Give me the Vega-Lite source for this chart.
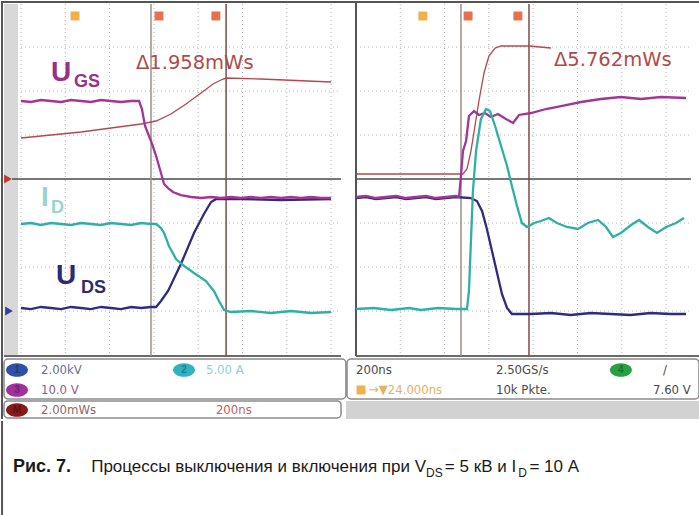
{
  "$schema": "https://vega.github.io/schema/vega-lite/v6.json",
  "background": "white",
  "padding": 0,
  "spacing": 0,
  "config": {
    "view": {"stroke": null},
    "axis": {"disable": true},
    "legend": {"disable": true},
    "concat": {"spacing": 0}
  },
  "datasets": {
    "traces": [
      {"panel":"off","ch":"E","t":0,"v":0.932},{"panel":"off","ch":"E","t":271,"v":1.068},{"panel":"off","ch":"E","t":542,"v":1.25},{"panel":"off","ch":"E","t":610,"v":1.318},{"panel":"off","ch":"E","t":677,"v":1.477},{"panel":"off","ch":"E","t":745,"v":1.705},{"panel":"off","ch":"E","t":813,"v":1.955},{"panel":"off","ch":"E","t":867,"v":2.159},{"panel":"off","ch":"E","t":903,"v":2.25},{"panel":"off","ch":"E","t":926,"v":2.295},{"panel":"off","ch":"E","t":1084,"v":2.273},{"panel":"off","ch":"E","t":1400,"v":2.205},

      {"panel":"off","ch":"UDS","t":0,"v":-2.932},{"panel":"off","ch":"UDS","t":45,"v":-2.955},{"panel":"off","ch":"UDS","t":90,"v":-2.909},{"panel":"off","ch":"UDS","t":135,"v":-2.932},{"panel":"off","ch":"UDS","t":181,"v":-2.955},{"panel":"off","ch":"UDS","t":226,"v":-2.909},{"panel":"off","ch":"UDS","t":271,"v":-2.932},{"panel":"off","ch":"UDS","t":316,"v":-2.955},{"panel":"off","ch":"UDS","t":361,"v":-2.909},{"panel":"off","ch":"UDS","t":406,"v":-2.932},{"panel":"off","ch":"UDS","t":451,"v":-2.955},{"panel":"off","ch":"UDS","t":497,"v":-2.909},{"panel":"off","ch":"UDS","t":542,"v":-2.932},{"panel":"off","ch":"UDS","t":587,"v":-2.909},{"panel":"off","ch":"UDS","t":610,"v":-2.909},{"panel":"off","ch":"UDS","t":632,"v":-2.773},{"panel":"off","ch":"UDS","t":664,"v":-2.545},{"panel":"off","ch":"UDS","t":722,"v":-1.932},{"panel":"off","ch":"UDS","t":781,"v":-1.227},{"panel":"off","ch":"UDS","t":826,"v":-0.795},{"panel":"off","ch":"UDS","t":858,"v":-0.523},{"panel":"off","ch":"UDS","t":881,"v":-0.455},{"panel":"off","ch":"UDS","t":993,"v":-0.455},{"panel":"off","ch":"UDS","t":1174,"v":-0.477},{"panel":"off","ch":"UDS","t":1400,"v":-0.455},

      {"panel":"off","ch":"UGS","t":0,"v":1.773},{"panel":"off","ch":"UGS","t":45,"v":1.75},{"panel":"off","ch":"UGS","t":90,"v":1.795},{"panel":"off","ch":"UGS","t":135,"v":1.773},{"panel":"off","ch":"UGS","t":181,"v":1.75},{"panel":"off","ch":"UGS","t":226,"v":1.795},{"panel":"off","ch":"UGS","t":271,"v":1.773},{"panel":"off","ch":"UGS","t":316,"v":1.75},{"panel":"off","ch":"UGS","t":361,"v":1.795},{"panel":"off","ch":"UGS","t":406,"v":1.773},{"panel":"off","ch":"UGS","t":451,"v":1.75},{"panel":"off","ch":"UGS","t":497,"v":1.773},{"panel":"off","ch":"UGS","t":533,"v":1.773},{"panel":"off","ch":"UGS","t":546,"v":1.59},{"panel":"off","ch":"UGS","t":560,"v":1.205},{"panel":"off","ch":"UGS","t":587,"v":0.864},{"panel":"off","ch":"UGS","t":610,"v":0.523},{"panel":"off","ch":"UGS","t":632,"v":0.136},{"panel":"off","ch":"UGS","t":646,"v":-0.114},{"panel":"off","ch":"UGS","t":664,"v":-0.205},{"panel":"off","ch":"UGS","t":686,"v":-0.295},{"panel":"off","ch":"UGS","t":722,"v":-0.364},{"panel":"off","ch":"UGS","t":768,"v":-0.409},{"panel":"off","ch":"UGS","t":813,"v":-0.432},{"panel":"off","ch":"UGS","t":858,"v":-0.409},{"panel":"off","ch":"UGS","t":903,"v":-0.432},{"panel":"off","ch":"UGS","t":948,"v":-0.409},{"panel":"off","ch":"UGS","t":993,"v":-0.432},{"panel":"off","ch":"UGS","t":1039,"v":-0.409},{"panel":"off","ch":"UGS","t":1084,"v":-0.432},{"panel":"off","ch":"UGS","t":1129,"v":-0.409},{"panel":"off","ch":"UGS","t":1174,"v":-0.432},{"panel":"off","ch":"UGS","t":1219,"v":-0.409},{"panel":"off","ch":"UGS","t":1264,"v":-0.432},{"panel":"off","ch":"UGS","t":1310,"v":-0.409},{"panel":"off","ch":"UGS","t":1355,"v":-0.432},{"panel":"off","ch":"UGS","t":1400,"v":-0.432},

      {"panel":"off","ch":"ID","t":0,"v":-1.023},{"panel":"off","ch":"ID","t":45,"v":-1.0},{"panel":"off","ch":"ID","t":90,"v":-1.045},{"panel":"off","ch":"ID","t":135,"v":-1.0},{"panel":"off","ch":"ID","t":181,"v":-1.023},{"panel":"off","ch":"ID","t":226,"v":-1.045},{"panel":"off","ch":"ID","t":271,"v":-1.0},{"panel":"off","ch":"ID","t":316,"v":-1.023},{"panel":"off","ch":"ID","t":361,"v":-1.045},{"panel":"off","ch":"ID","t":406,"v":-1.0},{"panel":"off","ch":"ID","t":451,"v":-1.023},{"panel":"off","ch":"ID","t":497,"v":-1.045},{"panel":"off","ch":"ID","t":542,"v":-1.0},{"panel":"off","ch":"ID","t":587,"v":-1.023},{"panel":"off","ch":"ID","t":610,"v":-1.023},{"panel":"off","ch":"ID","t":632,"v":-1.114},{"panel":"off","ch":"ID","t":646,"v":-1.227},{"panel":"off","ch":"ID","t":668,"v":-1.523},{"panel":"off","ch":"ID","t":700,"v":-1.818},{"panel":"off","ch":"ID","t":731,"v":-1.955},{"panel":"off","ch":"ID","t":781,"v":-2.136},{"panel":"off","ch":"ID","t":835,"v":-2.318},{"panel":"off","ch":"ID","t":871,"v":-2.545},{"panel":"off","ch":"ID","t":894,"v":-2.773},{"panel":"off","ch":"ID","t":917,"v":-2.977},{"panel":"off","ch":"ID","t":948,"v":-3.023},{"panel":"off","ch":"ID","t":1039,"v":-3.0},{"panel":"off","ch":"ID","t":1129,"v":-3.045},{"panel":"off","ch":"ID","t":1219,"v":-3.0},{"panel":"off","ch":"ID","t":1310,"v":-3.045},{"panel":"off","ch":"ID","t":1400,"v":-3.023},

      {"panel":"on","ch":"E","t":0,"v":0.114},{"panel":"on","ch":"E","t":293,"v":0.114},{"panel":"on","ch":"E","t":483,"v":0.114},{"panel":"on","ch":"E","t":501,"v":0.227},{"panel":"on","ch":"E","t":519,"v":0.636},{"panel":"on","ch":"E","t":537,"v":1.205},{"panel":"on","ch":"E","t":555,"v":1.773},{"panel":"on","ch":"E","t":578,"v":2.409},{"panel":"on","ch":"E","t":600,"v":2.795},{"panel":"on","ch":"E","t":628,"v":2.977},{"panel":"on","ch":"E","t":655,"v":3.023},{"panel":"on","ch":"E","t":781,"v":3.023},{"panel":"on","ch":"E","t":880,"v":2.977},

      {"panel":"on","ch":"UDS","t":0,"v":-0.432},{"panel":"on","ch":"UDS","t":45,"v":-0.409},{"panel":"on","ch":"UDS","t":90,"v":-0.455},{"panel":"on","ch":"UDS","t":135,"v":-0.432},{"panel":"on","ch":"UDS","t":181,"v":-0.409},{"panel":"on","ch":"UDS","t":226,"v":-0.455},{"panel":"on","ch":"UDS","t":271,"v":-0.432},{"panel":"on","ch":"UDS","t":316,"v":-0.409},{"panel":"on","ch":"UDS","t":361,"v":-0.455},{"panel":"on","ch":"UDS","t":406,"v":-0.432},{"panel":"on","ch":"UDS","t":451,"v":-0.409},{"panel":"on","ch":"UDS","t":519,"v":-0.432},{"panel":"on","ch":"UDS","t":546,"v":-0.5},{"panel":"on","ch":"UDS","t":569,"v":-0.727},{"panel":"on","ch":"UDS","t":591,"v":-1.136},{"panel":"on","ch":"UDS","t":614,"v":-1.636},{"panel":"on","ch":"UDS","t":637,"v":-2.136},{"panel":"on","ch":"UDS","t":659,"v":-2.614},{"panel":"on","ch":"UDS","t":682,"v":-2.932},{"panel":"on","ch":"UDS","t":704,"v":-3.068},{"panel":"on","ch":"UDS","t":790,"v":-3.068},{"panel":"on","ch":"UDS","t":880,"v":-3.045},{"panel":"on","ch":"UDS","t":970,"v":-3.091},{"panel":"on","ch":"UDS","t":1060,"v":-3.045},{"panel":"on","ch":"UDS","t":1150,"v":-3.068},{"panel":"on","ch":"UDS","t":1240,"v":-3.091},{"panel":"on","ch":"UDS","t":1330,"v":-3.045},{"panel":"on","ch":"UDS","t":1420,"v":-3.068},{"panel":"on","ch":"UDS","t":1490,"v":-3.068},

      {"panel":"on","ch":"UGS","t":0,"v":-0.409},{"panel":"on","ch":"UGS","t":45,"v":-0.386},{"panel":"on","ch":"UGS","t":90,"v":-0.432},{"panel":"on","ch":"UGS","t":135,"v":-0.409},{"panel":"on","ch":"UGS","t":181,"v":-0.386},{"panel":"on","ch":"UGS","t":226,"v":-0.432},{"panel":"on","ch":"UGS","t":271,"v":-0.409},{"panel":"on","ch":"UGS","t":316,"v":-0.386},{"panel":"on","ch":"UGS","t":361,"v":-0.432},{"panel":"on","ch":"UGS","t":406,"v":-0.409},{"panel":"on","ch":"UGS","t":451,"v":-0.386},{"panel":"on","ch":"UGS","t":465,"v":-0.409},{"panel":"on","ch":"UGS","t":474,"v":0.068},{"panel":"on","ch":"UGS","t":483,"v":0.636},{"panel":"on","ch":"UGS","t":497,"v":0.864},{"panel":"on","ch":"UGS","t":510,"v":1.432},{"panel":"on","ch":"UGS","t":533,"v":1.545},{"panel":"on","ch":"UGS","t":555,"v":1.455},{"panel":"on","ch":"UGS","t":582,"v":1.5},{"panel":"on","ch":"UGS","t":609,"v":1.409},{"panel":"on","ch":"UGS","t":641,"v":1.477},{"panel":"on","ch":"UGS","t":677,"v":1.364},{"panel":"on","ch":"UGS","t":709,"v":1.273},{"panel":"on","ch":"UGS","t":736,"v":1.455},{"panel":"on","ch":"UGS","t":790,"v":1.5},{"panel":"on","ch":"UGS","t":858,"v":1.591},{"panel":"on","ch":"UGS","t":926,"v":1.659},{"panel":"on","ch":"UGS","t":1016,"v":1.75},{"panel":"on","ch":"UGS","t":1106,"v":1.818},{"panel":"on","ch":"UGS","t":1196,"v":1.864},{"panel":"on","ch":"UGS","t":1287,"v":1.818},{"panel":"on","ch":"UGS","t":1377,"v":1.864},{"panel":"on","ch":"UGS","t":1490,"v":1.841},

      {"panel":"on","ch":"ID","t":0,"v":-2.955},{"panel":"on","ch":"ID","t":80,"v":-2.932},{"panel":"on","ch":"ID","t":158,"v":-2.977},{"panel":"on","ch":"ID","t":240,"v":-2.932},{"panel":"on","ch":"ID","t":293,"v":-2.977},{"panel":"on","ch":"ID","t":370,"v":-2.932},{"panel":"on","ch":"ID","t":451,"v":-2.955},{"panel":"on","ch":"ID","t":501,"v":-2.955},{"panel":"on","ch":"ID","t":510,"v":-2.545},{"panel":"on","ch":"ID","t":519,"v":-1.409},{"panel":"on","ch":"ID","t":528,"v":-0.273},{"panel":"on","ch":"ID","t":542,"v":0.636},{"panel":"on","ch":"ID","t":564,"v":1.364},{"panel":"on","ch":"ID","t":587,"v":1.591},{"panel":"on","ch":"ID","t":605,"v":1.545},{"panel":"on","ch":"ID","t":628,"v":1.205},{"panel":"on","ch":"ID","t":655,"v":0.75},{"panel":"on","ch":"ID","t":682,"v":0.295},{"panel":"on","ch":"ID","t":704,"v":-0.159},{"panel":"on","ch":"ID","t":727,"v":-0.614},{"panel":"on","ch":"ID","t":749,"v":-1.0},{"panel":"on","ch":"ID","t":772,"v":-1.091},{"panel":"on","ch":"ID","t":804,"v":-1.0},{"panel":"on","ch":"ID","t":835,"v":-0.955},{"panel":"on","ch":"ID","t":871,"v":-0.886},{"panel":"on","ch":"ID","t":907,"v":-1.0},{"panel":"on","ch":"ID","t":953,"v":-1.091},{"panel":"on","ch":"ID","t":1002,"v":-1.136},{"panel":"on","ch":"ID","t":1047,"v":-1.0},{"panel":"on","ch":"ID","t":1093,"v":-0.932},{"panel":"on","ch":"ID","t":1129,"v":-1.091},{"panel":"on","ch":"ID","t":1160,"v":-1.318},{"panel":"on","ch":"ID","t":1196,"v":-1.227},{"panel":"on","ch":"ID","t":1242,"v":-1.045},{"panel":"on","ch":"ID","t":1278,"v":-0.932},{"panel":"on","ch":"ID","t":1318,"v":-1.091},{"panel":"on","ch":"ID","t":1359,"v":-1.227},{"panel":"on","ch":"ID","t":1400,"v":-1.091},{"panel":"on","ch":"ID","t":1445,"v":-1.0},{"panel":"on","ch":"ID","t":1481,"v":-0.886}
    ],
    "gridT": [
      {"panel":"off","t":0},{"panel":"off","t":200},{"panel":"off","t":400},{"panel":"off","t":600},{"panel":"off","t":800},{"panel":"off","t":1000},{"panel":"off","t":1200},{"panel":"off","t":1400},
      {"panel":"on","t":200},{"panel":"on","t":400},{"panel":"on","t":600},{"panel":"on","t":800},{"panel":"on","t":1000},{"panel":"on","t":1200},{"panel":"on","t":1400}
    ],
    "gridV": [{"v":-3},{"v":-2},{"v":-1},{"v":1},{"v":2},{"v":3}],
    "cursors": [
      {"panel":"off","cur":"a","t":587},{"panel":"off","cur":"b","t":926},
      {"panel":"on","cur":"a","t":474},{"panel":"on","cur":"b","t":781}
    ],
    "markers": [
      {"panel":"off","kind":"trigger","t":244,"v":3.705},{"panel":"off","kind":"cursor","t":623,"v":3.705},{"panel":"off","kind":"cursor","t":880,"v":3.705},
      {"panel":"off","kind":"gndM","t":-58.7,"v":0},{"panel":"off","kind":"gnd1","t":-54,"v":-3.0},
      {"panel":"on","kind":"trigger","t":302,"v":3.705},{"panel":"on","kind":"cursor","t":506,"v":3.705},{"panel":"on","kind":"cursor","t":731,"v":3.705},
      {"panel":"on","kind":"trigger","t":22.6,"v":-4.795}
    ],
    "badges": [
      {"panel":"off","kind":"ch1","num":"1","t":-18.1,"v":-4.341},{"panel":"off","kind":"ch3","num":"3","t":-18.1,"v":-4.795},{"panel":"off","kind":"math","num":"M","t":-18.1,"v":-5.25},{"panel":"off","kind":"ch2","num":"2","t":736,"v":-4.341},
      {"panel":"on","kind":"ch4","num":"4","t":1196,"v":-4.341}
    ],
    "labels": [
      {"panel":"off","kind":"big","ch":"UGS","t":135,"v":2.227,"text":"U"},
      {"panel":"off","kind":"sub","ch":"UGS","t":239,"v":2.09,"text":"GS"},
      {"panel":"off","kind":"big","ch":"IDlbl","t":90,"v":-0.614,"text":"I"},
      {"panel":"off","kind":"sub","ch":"IDlbl","t":135,"v":-0.773,"text":"D"},
      {"panel":"off","kind":"big","ch":"UDS","t":158,"v":-2.386,"text":"U"},
      {"panel":"off","kind":"sub","ch":"UDS","t":271,"v":-2.591,"text":"DS"},
      {"panel":"off","kind":"delta","ch":"E","t":519,"v":2.5,"text":"Δ1.958mWs"},
      {"panel":"on","kind":"delta","ch":"E","t":894,"v":2.568,"text":"Δ5.762mWs"}
    ],
    "readout": [
      {"panel":"off","ch":"ch1","t":90.3,"v":-4.341,"text":"2.00kV"},
      {"panel":"off","ch":"ch2","t":835,"v":-4.341,"text":"5.00 A"},
      {"panel":"off","ch":"ch3","t":90.3,"v":-4.795,"text":"10.0 V"},
      {"panel":"off","ch":"math","t":90.3,"v":-5.25,"text":"2.00mWs"},
      {"panel":"off","ch":"mathT","t":880,"v":-5.25,"text":"200ns"},
      {"panel":"on","ch":"time","t":0,"v":-4.341,"text":"200ns"},
      {"panel":"on","ch":"time","t":632,"v":-4.341,"text":"2.50GS/s"},
      {"panel":"on","ch":"time","t":1386,"v":-4.341,"text":"/"},
      {"panel":"on","ch":"trig","t":58.7,"v":-4.795,"text":"→▼24.000ns"},
      {"panel":"on","ch":"time","t":632,"v":-4.795,"text":"10k Pkte."},
      {"panel":"on","ch":"time","t":1341,"v":-4.795,"text":"7.60 V"}
    ],
    "caption": [
      {"role":"fig","pos":1.72,"piece":"Рис. 7."},
      {"role":"body","pos":12.9,"piece":"Процессы выключения и включения при V"},
      {"role":"index","pos":60.8,"piece":"DS"},
      {"role":"body","pos":63.5,"piece":"= 5 кВ и I"},
      {"role":"index","pos":74.0,"piece":"D"},
      {"role":"body","pos":75.6,"piece":"= 10 А"}
    ]
  },
  "vconcat": [
    {
      "spacing": 0,
      "bounds": "flush",
      "hconcat": [
        {
          "width": 345,
          "height": 418,
          "layer": [
            {"data":{"values":[{}]},"mark":{"type":"rect","fill":"#d8d8d8"},
             "encoding":{"x":{"datum":-76.8,"type":"quantitative","axis":null,"scale":{"domain":[-90.3,1467.4],"nice":false,"zero":false}},"x2":{"datum":-13.5},
                         "y":{"datum":3.977,"type":"quantitative","axis":null,"scale":{"domain":[-5.4545,4.0455],"nice":false,"zero":false}},"y2":{"datum":-4.023}}},
            {"data":{"name":"gridT"},"transform":[{"filter":"datum.panel==='off'"}],"mark":{"type":"rule","stroke":"#b5b5b5","strokeDash":[1,3],"strokeWidth":1},
             "encoding":{"x":{"field":"t","type":"quantitative"},"y":{"datum":3.977},"y2":{"datum":-4.023}}},
            {"data":{"name":"gridV"},"mark":{"type":"rule","stroke":"#b5b5b5","strokeDash":[1,3],"strokeWidth":1},
             "encoding":{"y":{"field":"v","type":"quantitative"},"x":{"datum":0},"x2":{"datum":1445}}},
            {"data":{"values":[{}]},"mark":{"type":"rule","stroke":"#4a4a4a","strokeWidth":1.5},
             "encoding":{"y":{"datum":0},"x":{"datum":-40},"x2":{"datum":1445}}},
            {"data":{"values":[{}]},"mark":{"type":"rule","stroke":"#6a6a6a","strokeWidth":2},
             "encoding":{"y":{"datum":-4.023},"x":{"datum":-76.8},"x2":{"datum":1445}}},
            {"data":{"values":[{}]},"mark":{"type":"rule","stroke":"#555555","strokeWidth":2},
             "encoding":{"y":{"datum":4.023}}},
            {"data":{"values":[{}]},"mark":{"type":"rule","stroke":"#555555","strokeWidth":2},
             "encoding":{"x":{"datum":-85.8}}},
            {"data":{"name":"cursors"},"transform":[{"filter":"datum.panel==='off'"}],"mark":{"type":"rule","strokeWidth":1.5},
             "encoding":{"x":{"field":"t","type":"quantitative"},"y":{"datum":3.977},"y2":{"datum":-4.023},
                         "stroke":{"field":"cur","type":"nominal","legend":null,"scale":{"domain":["E","UDS","UGS","ID","a","b"],"range":["#b5474f","#2e2c80","#a33597","#2fb0a4","#9a908b","#7d4b47"]}}}},
            {"data":{"name":"traces"},"transform":[{"filter":"datum.panel==='off' && datum.ch==='E'"}],"mark":{"type":"line","strokeWidth":1.3,"stroke":"#b5474f"},
             "encoding":{"x":{"field":"t","type":"quantitative"},"y":{"field":"v","type":"quantitative"}}},
            {"data":{"name":"traces"},"transform":[{"filter":"datum.panel==='off' && datum.ch!=='E'"}],"mark":{"type":"line","strokeWidth":2.3},
             "encoding":{"x":{"field":"t","type":"quantitative"},"y":{"field":"v","type":"quantitative"},
                         "stroke":{"field":"ch","type":"nominal","legend":null,"scale":{"domain":["E","UDS","UGS","ID","a","b"],"range":["#b5474f","#2e2c80","#a33597","#2fb0a4","#9a908b","#7d4b47"]}}}},
            {"data":{"name":"markers"},"transform":[{"filter":"datum.panel==='off'"}],"mark":{"type":"point","filled":true,"size":80,"opacity":1},
             "encoding":{"x":{"field":"t","type":"quantitative"},"y":{"field":"v","type":"quantitative"},
                         "color":{"field":"kind","type":"nominal","legend":null,"scale":{"domain":["trigger","cursor","gndM","gnd1","ch1","ch2","ch3","math","ch4"],"range":["#f2b04a","#e8704e","#c0392b","#3b3b9a","#3050a8","#2fb3c2","#a0309a","#8a1a1a","#28a045"]}},
                         "shape":{"field":"kind","type":"nominal","legend":null,"scale":{"domain":["trigger","cursor","gndM","gnd1"],"range":["square","square","triangle-right","triangle-right"]}}}},
            {"data":{"values":[{}]},"mark":{"type":"rect","fill":"white","stroke":"#8a8a8a","strokeWidth":1.5,"cornerRadius":4},
             "encoding":{"x":{"datum":-76.8},"x2":{"datum":1467},"y":{"datum":-4.091},"y2":{"datum":-5.0}}},
            {"data":{"values":[{}]},"mark":{"type":"rect","fill":"white","stroke":"#8a8a8a","strokeWidth":1.5,"cornerRadius":4},
             "encoding":{"x":{"datum":-76.8},"x2":{"datum":1445},"y":{"datum":-5.045},"y2":{"datum":-5.432}}},
            {"data":{"name":"badges"},"transform":[{"filter":"datum.panel==='off'"}],"mark":{"type":"point","filled":true,"size":484,"opacity":1,"shape":"M-1,0A1,0.62,0,1,0,1,0A1,0.62,0,1,0,-1,0Z"},
             "encoding":{"x":{"field":"t","type":"quantitative"},"y":{"field":"v","type":"quantitative"},
                         "color":{"field":"kind","type":"nominal","legend":null,"scale":{"domain":["trigger","cursor","gndM","gnd1","ch1","ch2","ch3","math","ch4"],"range":["#f2b04a","#e8704e","#c0392b","#3b3b9a","#3050a8","#2fb3c2","#a0309a","#8a1a1a","#28a045"]}}}},
            {"data":{"name":"badges"},"transform":[{"filter":"datum.panel==='off'"}],"mark":{"type":"text","font":"Liberation Sans","fontWeight":"bold","fontSize":10,"fill":"#000000","opacity":0.3,"align":"center","baseline":"middle"},
             "encoding":{"x":{"field":"t","type":"quantitative"},"y":{"field":"v","type":"quantitative"},"text":{"field":"num"}}},
            {"data":{"name":"readout"},"transform":[{"filter":"datum.panel==='off'"}],"mark":{"type":"text","font":"Liberation Sans Narrow, DejaVu Sans Condensed, sans-serif","fontSize":13,"align":"left","baseline":"middle"},
             "encoding":{"x":{"field":"t","type":"quantitative"},"y":{"field":"v","type":"quantitative"},"text":{"field":"text"},
                         "fill":{"field":"ch","type":"nominal","legend":null,"scale":{"domain":["UGS","UDS","IDlbl","E","ch1","ch2","ch3","math","mathT","time","trig"],"range":["#9c2f8a","#2b2a75","#93d6cc","#b04a4a","#6e7090","#8fd0d8","#8e5a90","#8a6a6a","#c06060","#4a4a4a","#e8b060"]}}}},
            {"data":{"name":"labels"},"transform":[{"filter":"datum.panel==='off' && datum.kind==='big'"}],"mark":{"type":"text","font":"Liberation Sans","fontWeight":"bold","fontSize":28,"align":"left","baseline":"alphabetic"},
             "encoding":{"x":{"field":"t","type":"quantitative"},"y":{"field":"v","type":"quantitative"},"text":{"field":"text"},
                         "fill":{"field":"ch","type":"nominal","legend":null,"scale":{"domain":["UGS","UDS","IDlbl","E","ch1","ch2","ch3","math","mathT","time","trig"],"range":["#9c2f8a","#2b2a75","#93d6cc","#b04a4a","#6e7090","#8fd0d8","#8e5a90","#8a6a6a","#c06060","#4a4a4a","#e8b060"]}}}},
            {"data":{"name":"labels"},"transform":[{"filter":"datum.panel==='off' && datum.kind==='sub'"}],"mark":{"type":"text","font":"Liberation Sans","fontWeight":"bold","fontSize":18,"align":"left","baseline":"alphabetic"},
             "encoding":{"x":{"field":"t","type":"quantitative"},"y":{"field":"v","type":"quantitative"},"text":{"field":"text"},
                         "fill":{"field":"ch","type":"nominal","legend":null,"scale":{"domain":["UGS","UDS","IDlbl","E","ch1","ch2","ch3","math","mathT","time","trig"],"range":["#9c2f8a","#2b2a75","#93d6cc","#b04a4a","#6e7090","#8fd0d8","#8e5a90","#8a6a6a","#c06060","#4a4a4a","#e8b060"]}}}},
            {"data":{"name":"labels"},"transform":[{"filter":"datum.panel==='off' && datum.kind==='delta'"}],"mark":{"type":"text","font":"DejaVu Sans","fontSize":19.5,"align":"left","baseline":"alphabetic"},
             "encoding":{"x":{"field":"t","type":"quantitative"},"y":{"field":"v","type":"quantitative"},"text":{"field":"text"},
                         "fill":{"field":"ch","type":"nominal","legend":null,"scale":{"domain":["UGS","UDS","IDlbl","E","ch1","ch2","ch3","math","mathT","time","trig"],"range":["#9c2f8a","#2b2a75","#93d6cc","#b04a4a","#6e7090","#8fd0d8","#8e5a90","#8a6a6a","#c06060","#4a4a4a","#e8b060"]}}}}
          ]
        },
        {
          "width": 354,
          "height": 418,
          "layer": [
            {"data":{"values":[{}]},"mark":{"type":"rect","fill":"#d2d2d2"},
             "encoding":{"x":{"datum":-45.15,"type":"quantitative","axis":null,"scale":{"domain":[-45.15,1553.2],"nice":false,"zero":false}},"x2":{"datum":1553.2},
                         "y":{"datum":-5.045,"type":"quantitative","axis":null,"scale":{"domain":[-5.4545,4.0455],"nice":false,"zero":false}},"y2":{"datum":-5.4545}}},
            {"data":{"name":"gridT"},"transform":[{"filter":"datum.panel==='on'"}],"mark":{"type":"rule","stroke":"#b5b5b5","strokeDash":[1,3],"strokeWidth":1},
             "encoding":{"x":{"field":"t","type":"quantitative"},"y":{"datum":3.977},"y2":{"datum":-4.023}}},
            {"data":{"name":"gridV"},"mark":{"type":"rule","stroke":"#b5b5b5","strokeDash":[1,3],"strokeWidth":1},
             "encoding":{"y":{"field":"v","type":"quantitative"},"x":{"datum":0},"x2":{"datum":1512}}},
            {"data":{"values":[{}]},"mark":{"type":"rule","stroke":"#4a4a4a","strokeWidth":1.5},
             "encoding":{"y":{"datum":0},"x":{"datum":0},"x2":{"datum":1512}}},
            {"data":{"values":[{}]},"mark":{"type":"rule","stroke":"#6a6a6a","strokeWidth":2},
             "encoding":{"y":{"datum":-4.023},"x":{"datum":0},"x2":{"datum":1553.2}}},
            {"data":{"values":[{}]},"mark":{"type":"rule","stroke":"#555555","strokeWidth":2},
             "encoding":{"x":{"datum":0},"y":{"datum":4.045},"y2":{"datum":-4.023}}},
            {"data":{"values":[{}]},"mark":{"type":"rule","stroke":"#555555","strokeWidth":2},
             "encoding":{"y":{"datum":4.023}}},
            {"data":{"name":"cursors"},"transform":[{"filter":"datum.panel==='on'"}],"mark":{"type":"rule","strokeWidth":1.5},
             "encoding":{"x":{"field":"t","type":"quantitative"},"y":{"datum":3.977},"y2":{"datum":-4.023},
                         "stroke":{"field":"cur","type":"nominal","legend":null,"scale":{"domain":["E","UDS","UGS","ID","a","b"],"range":["#b5474f","#2e2c80","#a33597","#2fb0a4","#6e5a56","#7d4b47"]}}}},
            {"data":{"name":"traces"},"transform":[{"filter":"datum.panel==='on' && datum.ch==='E'"}],"mark":{"type":"line","strokeWidth":1.3,"stroke":"#b5474f"},
             "encoding":{"x":{"field":"t","type":"quantitative"},"y":{"field":"v","type":"quantitative"}}},
            {"data":{"name":"traces"},"transform":[{"filter":"datum.panel==='on' && datum.ch!=='E'"}],"mark":{"type":"line","strokeWidth":2.3},
             "encoding":{"x":{"field":"t","type":"quantitative"},"y":{"field":"v","type":"quantitative"},
                         "stroke":{"field":"ch","type":"nominal","legend":null,"scale":{"domain":["E","UDS","UGS","ID","a","b"],"range":["#b5474f","#2e2c80","#a33597","#2fb0a4","#6e5a56","#7d4b47"]}}}},
            {"data":{"values":[{}]},"mark":{"type":"rect","fill":"white","stroke":"#8a8a8a","strokeWidth":1.5,"cornerRadius":4},
             "encoding":{"x":{"datum":-40.6},"x2":{"datum":1548.6},"y":{"datum":-4.091},"y2":{"datum":-5.0}}},
            {"data":{"name":"markers"},"transform":[{"filter":"datum.panel==='on'"}],"mark":{"type":"point","filled":true,"size":80,"opacity":1},
             "encoding":{"x":{"field":"t","type":"quantitative"},"y":{"field":"v","type":"quantitative"},
                         "color":{"field":"kind","type":"nominal","legend":null,"scale":{"domain":["trigger","cursor","gndM","gnd1","ch1","ch2","ch3","math","ch4"],"range":["#f2b04a","#e8704e","#c0392b","#3b3b9a","#3050a8","#2fb3c2","#a0309a","#8a1a1a","#28a045"]}},
                         "shape":{"field":"kind","type":"nominal","legend":null,"scale":{"domain":["trigger","cursor","gndM","gnd1"],"range":["square","square","triangle-right","triangle-right"]}}}},
            {"data":{"name":"badges"},"transform":[{"filter":"datum.panel==='on'"}],"mark":{"type":"point","filled":true,"size":484,"opacity":1,"shape":"M-1,0A1,0.62,0,1,0,1,0A1,0.62,0,1,0,-1,0Z"},
             "encoding":{"x":{"field":"t","type":"quantitative"},"y":{"field":"v","type":"quantitative"},
                         "color":{"field":"kind","type":"nominal","legend":null,"scale":{"domain":["trigger","cursor","gndM","gnd1","ch1","ch2","ch3","math","ch4"],"range":["#f2b04a","#e8704e","#c0392b","#3b3b9a","#3050a8","#2fb3c2","#a0309a","#8a1a1a","#28a045"]}}}},
            {"data":{"name":"badges"},"transform":[{"filter":"datum.panel==='on'"}],"mark":{"type":"text","font":"Liberation Sans","fontWeight":"bold","fontSize":10,"fill":"#000000","opacity":0.3,"align":"center","baseline":"middle"},
             "encoding":{"x":{"field":"t","type":"quantitative"},"y":{"field":"v","type":"quantitative"},"text":{"field":"num"}}},
            {"data":{"name":"readout"},"transform":[{"filter":"datum.panel==='on'"}],"mark":{"type":"text","font":"Liberation Sans Narrow, DejaVu Sans Condensed, sans-serif","fontSize":13,"align":"left","baseline":"middle"},
             "encoding":{"x":{"field":"t","type":"quantitative"},"y":{"field":"v","type":"quantitative"},"text":{"field":"text"},
                         "fill":{"field":"ch","type":"nominal","legend":null,"scale":{"domain":["UGS","UDS","IDlbl","E","ch1","ch2","ch3","math","mathT","time","trig"],"range":["#9c2f8a","#2b2a75","#93d6cc","#b04a4a","#6e7090","#8fd0d8","#8e5a90","#8a6a6a","#c06060","#4a4a4a","#e8b060"]}}}},
            {"data":{"name":"labels"},"transform":[{"filter":"datum.panel==='on' && datum.kind==='delta'"}],"mark":{"type":"text","font":"DejaVu Sans","fontSize":19.5,"align":"left","baseline":"alphabetic"},
             "encoding":{"x":{"field":"t","type":"quantitative"},"y":{"field":"v","type":"quantitative"},"text":{"field":"text"},
                         "fill":{"field":"ch","type":"nominal","legend":null,"scale":{"domain":["UGS","UDS","IDlbl","E","ch1","ch2","ch3","math","mathT","time","trig"],"range":["#9c2f8a","#2b2a75","#93d6cc","#b04a4a","#6e7090","#8fd0d8","#8e5a90","#8a6a6a","#c06060","#4a4a4a","#e8b060"]}}}}
          ]
        }
      ]
    },
    {
      "width": 699,
      "height": 97,
      "layer": [
        {"data":{"values":[{}]},"mark":{"type":"rule","stroke":"#555555","strokeWidth":2},
         "encoding":{"x":{"datum":0.15,"type":"quantitative","axis":null,"scale":{"domain":[0,100],"nice":false,"zero":false}}}},
        {"data":{"name":"caption"},"transform":[{"filter":"datum.role==='fig'"}],"mark":{"type":"text","font":"Liberation Sans","fontWeight":"bold","fontSize":18,"align":"left","baseline":"alphabetic","dy":2.5,"fill":"#1a1a1a"},
         "encoding":{"x":{"field":"pos","type":"quantitative"},"text":{"field":"piece"}}},
        {"data":{"name":"caption"},"transform":[{"filter":"datum.role==='body'"}],"mark":{"type":"text","font":"Liberation Sans","fontSize":17,"align":"left","baseline":"alphabetic","dy":2.5,"fill":"#1a1a1a"},
         "encoding":{"x":{"field":"pos","type":"quantitative"},"text":{"field":"piece"}}},
        {"data":{"name":"caption"},"transform":[{"filter":"datum.role==='index'"}],"mark":{"type":"text","font":"Liberation Sans","fontSize":12,"align":"left","baseline":"alphabetic","dy":7,"fill":"#1a1a1a"},
         "encoding":{"x":{"field":"pos","type":"quantitative"},"text":{"field":"piece"}}}
      ]
    }
  ]
}
